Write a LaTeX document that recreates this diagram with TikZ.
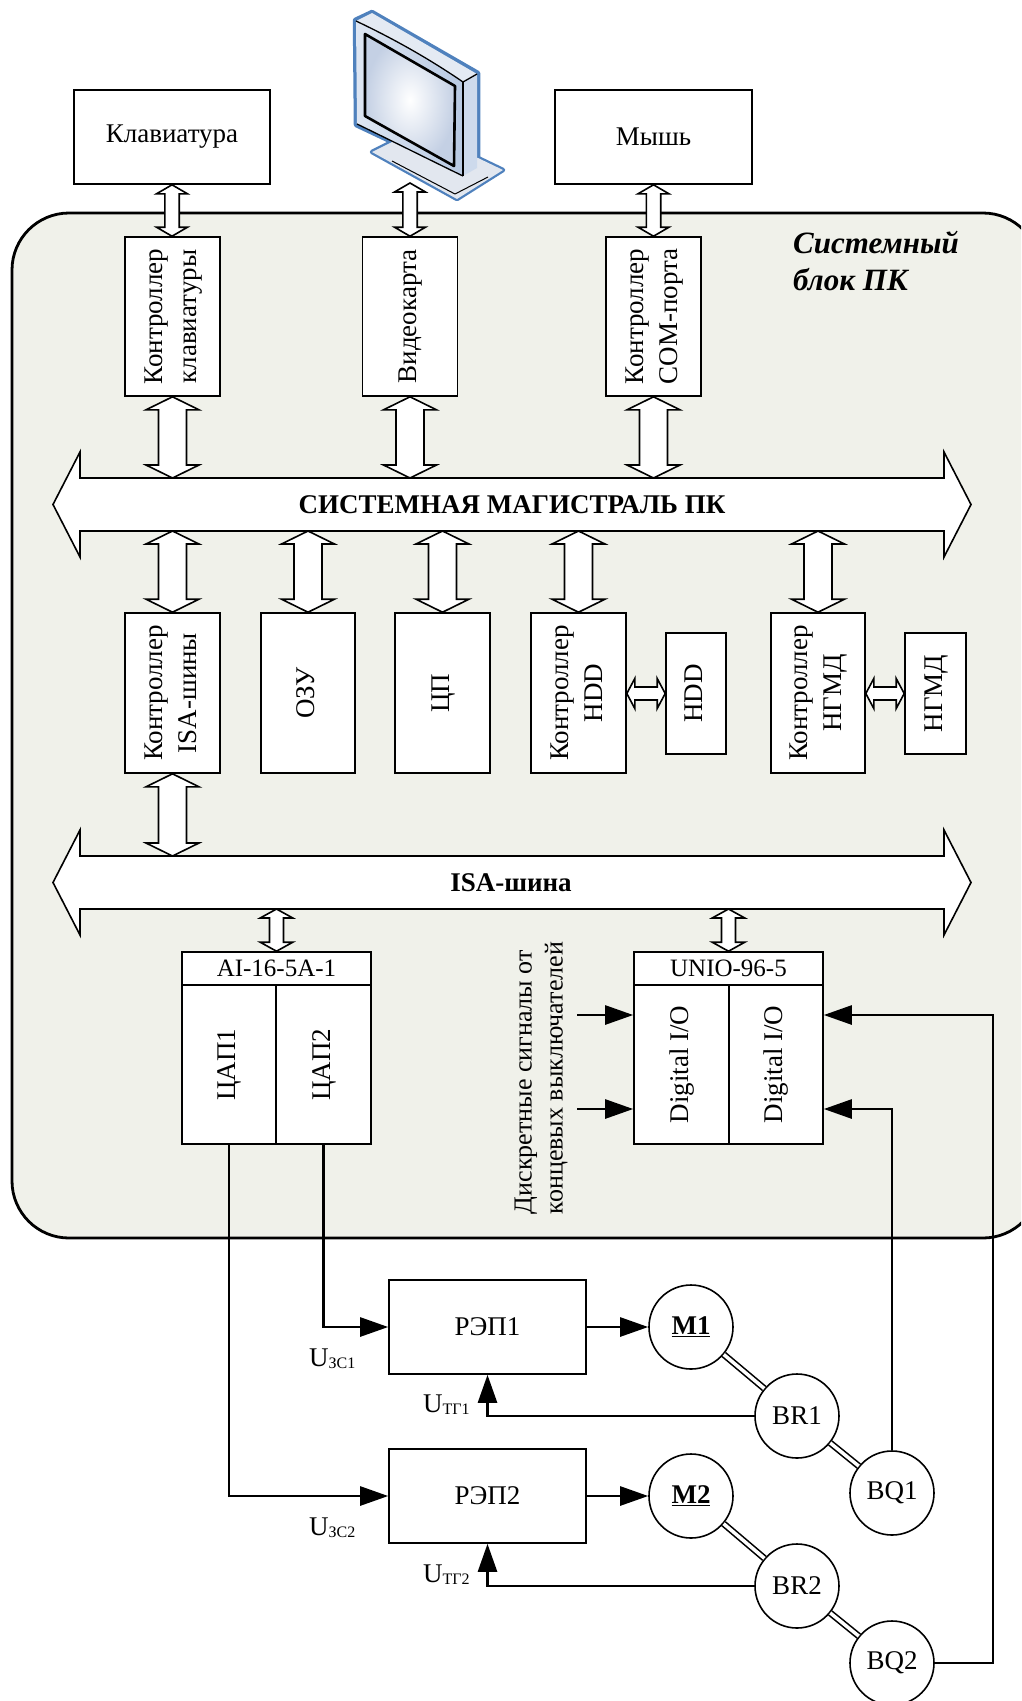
\documentclass[tikz,border=0pt]{standalone}
\usepackage{fontspec}
\setmainfont{Liberation Serif}
\usetikzlibrary{arrows.meta,calc}

\definecolor{unitfill}{RGB}{240,241,234}
\definecolor{rimblue}{RGB}{79,129,189}
\definecolor{bezeltop}{RGB}{228,234,243}
\definecolor{bezelside}{RGB}{205,218,236}
\definecolor{bezelL}{RGB}{222,230,242}
\definecolor{bezelR}{RGB}{184,201,226}
\definecolor{glassedge}{RGB}{196,208,228}
\definecolor{standfill}{RGB}{226,231,239}

\newcommand\mainfs{\fontsize{27}{34}\selectfont}
\newcommand\smallfs{\fontsize{25}{30}\selectfont}
\newcommand\subfs{\fontsize{16}{16}\selectfont}
\newcommand\busfs{\fontsize{27}{32}\selectfont\bfseries}
\newcommand\titlefs{\fontsize{31}{37}\selectfont\bfseries\itshape}
\newcommand\vtext[1]{\rotatebox{90}{\begin{tabular}{@{}c@{}}#1\end{tabular}}}
\newcommand\lowidx[1]{{\subfs\raisebox{-2pt}{#1}}}

\tikzset{
  box/.style={draw, line width=1.6pt, fill=white, inner sep=0pt, align=center, font=\mainfs},
  unit/.style={draw, line width=2.8pt, fill=unitfill, rounded corners=57pt},
  blk/.style={draw, line width=1.6pt, fill=white, line join=miter},
  sig/.style={line width=2.6pt, -{Triangle[length=28pt,width=19pt]}},
  mach/.style={circle, draw, line width=1.6pt, fill=white, minimum size=84pt, inner sep=0pt, font=\mainfs},
  shaft/.style={double, double distance=3.5pt, line width=1.6pt},
  lbl/.style={inner sep=0pt, font=\mainfs},
}

% vertical two-headed block arrow: upper point, lower point, shaft half width, head half width, head length
\newcommand\vblk[5]{%
  \draw[blk] let \p1=(#1), \p2=(#2) in
    (\x1,\y1) -- ({\x1+#4pt},{\y1-#5pt}) -- ({\x1+#3pt},{\y1-#5pt})
    -- ({\x1+#3pt},{\y2+#5pt}) -- ({\x1+#4pt},{\y2+#5pt}) -- (\x1,\y2)
    -- ({\x1-#4pt},{\y2+#5pt}) -- ({\x1-#3pt},{\y2+#5pt})
    -- ({\x1-#3pt},{\y1-#5pt}) -- ({\x1-#4pt},{\y1-#5pt}) -- cycle;}
% horizontal two-headed block arrow: left point, right point, shaft half width, head half width, head length
\newcommand\hblk[5]{%
  \draw[blk] let \p1=(#1), \p2=(#2) in
    (\x1,\y2) -- ({\x1+#5pt},{\y2+#4pt}) -- ({\x1+#5pt},{\y2+#3pt})
    -- ({\x2-#5pt},{\y2+#3pt}) -- ({\x2-#5pt},{\y2+#4pt}) -- (\x2,\y2)
    -- ({\x2-#5pt},{\y2-#4pt}) -- ({\x2-#5pt},{\y2-#3pt})
    -- ({\x1+#5pt},{\y2-#3pt}) -- ({\x1+#5pt},{\y2-#4pt}) -- cycle;}
% wide bus arrow centred on a given level
\newcommand\busarrow[1]{%
  \draw[blk] (53,#1) -- (80,#1-52.5) -- (80,#1-26.5) -- (944,#1-26.5) -- (944,#1-52.5)
    -- (971,#1) -- (944,#1+52.5) -- (944,#1+26.5) -- (80,#1+26.5) -- (80,#1+52.5) -- cycle;}

\begin{document}
\begin{tikzpicture}[x=1pt,y=-1pt]
\useasboundingbox (0,0) rectangle (1021,1701);
\clip (0,0) rectangle (1021,1701);

% system unit enclosure
\draw[unit] (12,213) rectangle (1040,1238);
\node[anchor=west, align=left, inner sep=0pt, font=\titlefs] (title) at (793,261) {Системный\\блок ПК};

% monitor
\begin{scope}[line join=round]
  \draw[rimblue, line width=4.5pt, fill=standfill]
    (355,20) -- (372,12) -- (478,73) -- (478,158) -- (503,170) -- (457,199)
    -- (372,152) -- (392,142) -- (356,125) -- cycle;
  \fill[standfill] (372,152) -- (392,142) -- (478,158) -- (503,170) -- (457,199) -- cycle;
  \draw[line width=1pt] (392,161) -- (455,194) -- (488,177);
  \fill[bezeltop] (356,21) -- (372,13) -- (477,74) -- (463,82)
    .. controls (428,58) and (392,38) .. (356,21) -- cycle;
  \fill[bezelside] (463,82) -- (477,74) -- (477,168) -- (463,176) -- cycle;
  \shade[left color=bezelL, right color=bezelR]
    (356,21) .. controls (392,38) and (428,58) .. (463,82) -- (463,176)
    .. controls (430,160) and (390,140) .. (357,124) -- cycle;
  \draw[line width=1.3pt] (356,21) .. controls (392,38) and (428,58) .. (463,82) -- (477,74);
  \draw[line width=1.3pt] (463,82) -- (463,176);
  \draw[line width=1.3pt] (357,124) .. controls (390,140) and (430,160) .. (463,176);
  \shade[inner color=white, outer color=glassedge]
    (365,34) -- (455,86) -- (454,166) -- (365,116) -- cycle;
  \draw[line width=2.6pt] (365,34) -- (455,86) -- (454,166) -- (365,116) -- cycle;
\end{scope}
\coordinate (monbase) at (410,183);

% peripherals
\node[box, minimum width=196pt, minimum height=94pt] (kbd) at (172,137) {Клавиатура};
\node[box, minimum width=197pt, minimum height=94pt] (mouse) at (653.5,137) {Мышь};

% port controllers
\node[box, minimum width=95pt, minimum height=159pt] (kctl) at (172.5,316.5) {\vtext{Контроллер\\клавиатуры}};
\node[box, minimum width=95pt, minimum height=159pt] (vid) at (410,316.5) {\vtext{Видеокарта}};
\node[box, minimum width=95pt, minimum height=159pt] (comctl) at (653.5,316.5) {\vtext{Контроллер\\COM-порта}};

% bus levels
\coordinate (sbT) at (0,478);
\coordinate (sbB) at (0,531);
\coordinate (isT) at (0,856);
\coordinate (isB) at (0,909);

% system bus
\busarrow{504.5}
\node[inner sep=0pt, font=\busfs] (sysbus) at (512,504.5) {СИСТЕМНАЯ МАГИСТРАЛЬ ПК};

% modules on the system bus
\node[box, minimum width=95pt, minimum height=160pt] (isactl) at (172.5,693) {\vtext{Контроллер\\ISA-шины}};
\node[box, minimum width=94pt, minimum height=160pt] (ram) at (308,693) {\vtext{ОЗУ}};
\node[box, minimum width=95pt, minimum height=160pt] (cpu) at (442.5,693) {\vtext{ЦП}};
\node[box, minimum width=95pt, minimum height=160pt] (hddctl) at (578.5,693) {\vtext{Контроллер\\HDD}};
\node[box, minimum width=60pt, minimum height=121pt] (hdd) at (696,693.5) {\vtext{HDD}};
\node[box, minimum width=94pt, minimum height=160pt] (fddctl) at (818,693) {\vtext{Контроллер\\НГМД}};
\node[box, minimum width=61pt, minimum height=121pt] (fdd) at (935.5,693.5) {\vtext{НГМД}};

% ISA bus
\busarrow{882.5}
\node[inner sep=0pt, font=\busfs] (isabus) at (511,882.5) {ISA-шина};

% ISA boards
\node[box, minimum width=189pt, minimum height=33pt, font=\smallfs] (aihead) at (276.5,968.5) {AI-16-5A-1};
\node[box, minimum width=94pt, minimum height=159pt] (dac1) at (229,1064.5) {\vtext{ЦАП1}};
\node[box, minimum width=95pt, minimum height=159pt] (dac2) at (323.5,1064.5) {\vtext{ЦАП2}};
\node[box, minimum width=189pt, minimum height=33pt, font=\smallfs] (uhead) at (728.5,968.5) {UNIO-96-5};
\node[box, minimum width=95pt, minimum height=159pt] (dio1) at (681.5,1064.5) {\vtext{Digital I/O}};
\node[box, minimum width=94pt, minimum height=159pt] (dio2) at (776,1064.5) {\vtext{Digital I/O}};

\node[rotate=90, align=left, inner sep=0pt, font=\fontsize{26}{31}\selectfont] (dsig) at (541,1078)
  {Дискретные сигналы от\\концевых выключателей};

% block arrows
\vblk{kbd.south}{kctl.north}{7.2}{15.5}{9}
\vblk{monbase}{vid.north}{7.2}{15.5}{9}
\vblk{mouse.south}{comctl.north}{7.2}{15.5}{9}
\vblk{kctl.south}{kctl.south|-sbT}{14}{26.5}{13}
\vblk{vid.south}{vid.south|-sbT}{14}{26.5}{13}
\vblk{comctl.south}{comctl.south|-sbT}{14}{26.5}{13}
\vblk{isactl.north|-sbB}{isactl.north}{14}{26.5}{13}
\vblk{ram.north|-sbB}{ram.north}{14}{26.5}{13}
\vblk{cpu.north|-sbB}{cpu.north}{14}{26.5}{13}
\vblk{hddctl.north|-sbB}{hddctl.north}{14}{26.5}{13}
\vblk{fddctl.north|-sbB}{fddctl.north}{14}{26.5}{13}
\vblk{isactl.south}{isactl.south|-isT}{14}{26.5}{13}
\vblk{aihead.north|-isB}{aihead.north}{7}{16.3}{9}
\vblk{uhead.north|-isB}{uhead.north}{7}{16.3}{9}
\hblk{hddctl.east}{hdd.west}{6.5}{15}{8}
\hblk{fddctl.east}{fdd.west}{6.5}{15}{8}

% drives and sensors
\node[box, minimum width=197pt, minimum height=94pt] (rep1) at (487.5,1327) {РЭП1};
\node[box, minimum width=197pt, minimum height=94pt] (rep2) at (487.5,1496) {РЭП2};
\node[mach] (M1) at (691,1327) {\underline{\textbf{M1}}};
\node[mach] (BR1) at (797,1416) {BR1};
\node[mach] (BQ1) at (892,1493) {BQ1};
\node[mach] (M2) at (691,1496) {\underline{\textbf{M2}}};
\node[mach] (BR2) at (797,1586) {BR2};
\node[mach] (BQ2) at (892,1663) {BQ2};

\draw[shaft] (M1) -- (BR1);
\draw[shaft] (BR1) -- (BQ1);
\draw[shaft] (M2) -- (BR2);
\draw[shaft] (BR2) -- (BQ2);

% signal lines
\coordinate (lvlA) at (0,1015);
\coordinate (lvlB) at (0,1109);
\coordinate (rbus) at (993,0);
\coordinate (inA) at (577,1015);
\coordinate (inB) at (577,1109);

\draw[sig] (dac2.south) |- (rep1.west);
\draw[sig] (dac1.south) |- (rep2.west);
\draw[sig] (rep1.east) -- (M1.west);
\draw[sig] (rep2.east) -- (M2.west);
\draw[sig] (BR1.west) -| (rep1.south);
\draw[sig] (BR2.west) -| (rep2.south);
\draw[sig] (BQ1.north) |- (dio2.east|-lvlB);
\draw[sig] (BQ2.east) -| (rbus|-lvlA) -- (dio2.east|-lvlA);
\draw[sig] (inA) -- (dio1.west|-inA);
\draw[sig] (inB) -- (dio1.west|-inB);

% signal labels
\node[lbl, anchor=base west] (uzs1) at (309,1366) {U\lowidx{ЗС1}};
\node[lbl, anchor=base west] (uzs2) at (309,1535) {U\lowidx{ЗС2}};
\node[lbl, anchor=base west] (utg1) at (423,1412) {U\lowidx{ТГ1}};
\node[lbl, anchor=base west] (utg2) at (423,1582) {U\lowidx{ТГ2}};
\end{tikzpicture}
\end{document}
